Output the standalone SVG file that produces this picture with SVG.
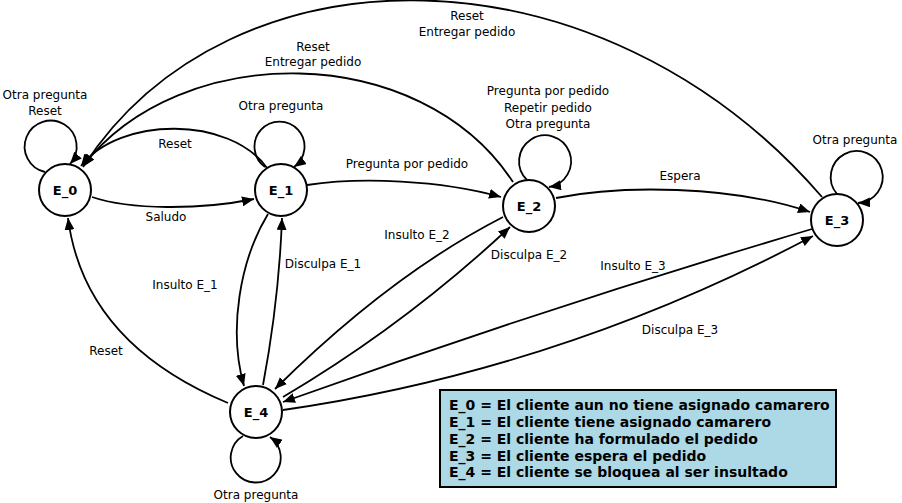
<svg xmlns="http://www.w3.org/2000/svg" width="902" height="503" viewBox="0 0 902 503">
<defs>
<marker id="arr" markerUnits="userSpaceOnUse" markerWidth="12" markerHeight="10" refX="12" refY="5" orient="auto">
<path d="M0,0 L12,5 L0,10 z" fill="#000"/>
</marker>
<style>
.e{fill:none;stroke:#000;stroke-width:1.8;marker-end:url(#arr)}
.n{fill:#fff;stroke:#000;stroke-width:2}
.nl{font-family:"DejaVu Sans",sans-serif;font-size:13px;font-weight:bold;text-anchor:middle}
.l{font-family:"DejaVu Sans",sans-serif;font-size:12px;text-anchor:middle}
.lg{font-family:"DejaVu Sans",sans-serif;font-size:14px;font-weight:bold}
</style>
</defs>
<rect width="902" height="503" fill="#fff"/>
<g id="connectors">
<path class="e" d="M45,172 A26 26 0 1 1 70,164"/>
<path class="e" d="M265,167 A25 25 0 1 1 294,167"/>
<path class="e" d="M527,180 A26 26 0 1 1 549,187"/>
<path class="e" d="M837,194 A26 26 0 1 1 858,203"/>
<path class="e" d="M243,436 A25 25 0 1 0 270,437"/>
<path class="e" d="M92,197 C130,210 200,210 254,199"/>
<path class="e" d="M267,168 C230,116 120,116 81,166"/>
<path class="e" d="M513,182 C420,40 180,40 83,166"/>
<path class="e" d="M822,197 C600,-60 230,-60 83,167"/>
<path class="e" d="M307,185 C360,177 440,180 501,197"/>
<path class="e" d="M556,198 C620,185 730,185 810,212"/>
<path class="e" d="M268,214 C240,260 228,330 244,386"/>
<path class="e" d="M263,385 Q279,300 282,218"/>
<path class="e" d="M503,217 Q390,275 275,389"/>
<path class="e" d="M283,397 Q405,325 510,227"/>
<path class="e" d="M812,229 Q545,308 283,402"/>
<path class="e" d="M283,410 Q560,370 813,236"/>
<path class="e" d="M228,403 C125,360 78,295 68,218"/>
</g>
<g id="edge-labels">
<text class="l" x="45" y="99">Otra pregunta</text>
<text class="l" x="45" y="115">Reset</text>
<text class="l" x="281" y="110">Otra pregunta</text>
<text class="l" x="175" y="148">Reset</text>
<text class="l" x="166" y="221">Saludo</text>
<text class="l" x="313" y="51">Reset</text>
<text class="l" x="313" y="66">Entregar pedido</text>
<text class="l" x="467" y="20">Reset</text>
<text class="l" x="467" y="36">Entregar pedido</text>
<text class="l" x="548" y="95">Pregunta por pedido</text>
<text class="l" x="548" y="112">Repetir pedido</text>
<text class="l" x="548" y="128">Otra pregunta</text>
<text class="l" x="680" y="180">Espera</text>
<text class="l" x="855" y="144">Otra pregunta</text>
<text class="l" x="407" y="168">Pregunta por pedido</text>
<text class="l" x="185" y="289">Insulto E_1</text>
<text class="l" x="323" y="268">Disculpa E_1</text>
<text class="l" x="417" y="239">Insulto E_2</text>
<text class="l" x="529" y="259">Disculpa E_2</text>
<text class="l" x="633" y="270">Insulto E_3</text>
<text class="l" x="680" y="334">Disculpa E_3</text>
<text class="l" x="106" y="355">Reset</text>
<text class="l" x="256" y="499">Otra pregunta</text>
</g>
<g id="E_0"><circle class="n" cx="65" cy="190" r="26"/><text class="nl" x="65" y="195">E_0</text></g>
<g id="E_1"><circle class="n" cx="281" cy="190" r="26"/><text class="nl" x="281" y="195">E_1</text></g>
<g id="E_2"><circle class="n" cx="529" cy="206" r="26"/><text class="nl" x="529" y="211">E_2</text></g>
<g id="E_3"><circle class="n" cx="837" cy="220" r="26"/><text class="nl" x="837" y="225">E_3</text></g>
<g id="E_4"><circle class="n" cx="256" cy="412" r="26"/><text class="nl" x="256" y="417">E_4</text></g>
<g id="legend">
<rect x="440" y="390" width="396" height="97" fill="#add8e6" stroke="#000" stroke-width="2"/>
<text class="lg" x="449" y="409.5">E_0 = El cliente aun no tiene asignado camarero</text>
<text class="lg" x="449" y="426.5">E_1 = El cliente tiene asignado camarero</text>
<text class="lg" x="449" y="443.5">E_2 = El cliente ha formulado el pedido</text>
<text class="lg" x="449" y="460.5">E_3 = El cliente espera el pedido</text>
<text class="lg" x="449" y="477">E_4 = El cliente se bloquea al ser insultado</text>
</g>
</svg>
